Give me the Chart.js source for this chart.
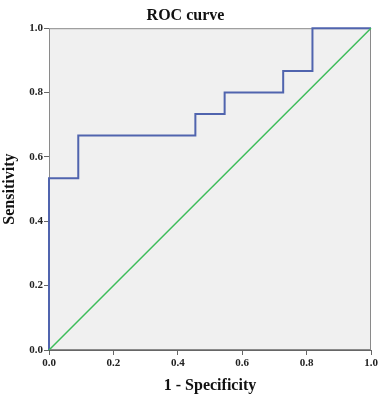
<!DOCTYPE html>
<html>
<head>
<meta charset="utf-8">
<script src="https://cdn.jsdelivr.net/npm/chart.js@4"></script>
<style>
  body { margin: 0; background: #fff; }
  #wrap { width: 390px; height: 400px; }
</style>
</head>
<body>
<div id="wrap"><canvas id="roc" width="390" height="400"></canvas></div>
<script>
// ROC points (1 - specificity, sensitivity)
const fpr = [0, 0, 1/11, 1/11, 5/11, 5/11, 6/11, 6/11, 8/11, 8/11, 9/11, 9/11, 1];
const tpr = [0, 8/15, 8/15, 10/15, 10/15, 11/15, 11/15, 12/15, 12/15, 13/15, 13/15, 1, 1];
const refX = [0, 1];
const refY = [0, 1];
const tickVals = [0, 0.2, 0.4, 0.6, 0.8, 1.0];

const serif = "'Liberation Serif', 'Times New Roman', serif";

// light gray plot background + frame, drawn under the lines
const areaBg = {
  id: 'areaBg',
  beforeDatasetsDraw(chart) {
    const { ctx, chartArea: a } = chart;
    ctx.save();
    ctx.fillStyle = '#f0f0f0';
    ctx.fillRect(a.left, a.top, a.right - a.left, a.bottom - a.top);
    ctx.strokeStyle = '#8a8a8a';
    ctx.lineWidth = 1;
    ctx.strokeRect(a.left + 0.5, a.top + 0.5, a.right - a.left - 1, a.bottom - a.top - 1);
    ctx.restore();
  }
};

const pts = (xs, ys) => xs.map((x, i) => ({ x: x, y: ys[i] }));

new Chart(document.getElementById('roc'), {
  type: 'scatter',
  data: {
    datasets: [
      {
        data: pts(refX, refY),
        showLine: true,
        clip: false,
        borderColor: '#3dbd5a',
        borderWidth: 1.5,
        pointRadius: 0
      },
      {
        data: pts(fpr, tpr),
        showLine: true,
        clip: false,
        borderColor: '#5064ae',
        borderWidth: 2,
        pointRadius: 0
      }
    ]
  },
  options: {
    responsive: false,
    animation: false,
    layout: { padding: { left: 0, right: 19, top: 0, bottom: 0 } },
    plugins: {
      legend: { display: false },
      tooltip: { enabled: false },
      title: {
        display: true,
        text: 'ROC curve',
        color: '#111',
        font: { family: serif, size: 16, weight: 'bold' },
        padding: { top: 6, bottom: 3 }
      }
    },
    scales: {
      x: {
        type: 'linear',
        min: 0, max: 1,
        afterBuildTicks: s => { s.ticks = tickVals.map(v => ({ value: v })); },
        afterFit: s => { s.height = 50; },
        grid: { drawOnChartArea: false, drawTicks: true, tickLength: 5, color: '#666' },
        border: { color: '#666' },
        ticks: {
          color: '#222',
          padding: 2,
          font: { family: serif, size: 11, weight: 'bold' },
          callback: v => v.toFixed(1)
        },
        title: {
          display: true,
          text: '1 - Specificity',
          color: '#111',
          font: { family: serif, size: 16, weight: 'bold' },
          padding: { top: 2, bottom: 5 }
        }
      },
      y: {
        type: 'linear',
        min: 0, max: 1,
        afterBuildTicks: s => { s.ticks = tickVals.map(v => ({ value: v })); },
        afterFit: s => { s.width = 49; },
        grid: { drawOnChartArea: false, drawTicks: true, tickLength: 5, color: '#666' },
        border: { color: '#444' },
        ticks: {
          color: '#222',
          padding: 1,
          font: { family: serif, size: 11, weight: 'bold' },
          callback: v => v.toFixed(1)
        },
        title: {
          display: true,
          text: 'Sensitivity',
          color: '#111',
          font: { family: serif, size: 16, weight: 'bold' },
          padding: { top: 0, bottom: 4 }
        }
      }
    }
  },
  plugins: [areaBg]
});
</script>
</body>
</html>
